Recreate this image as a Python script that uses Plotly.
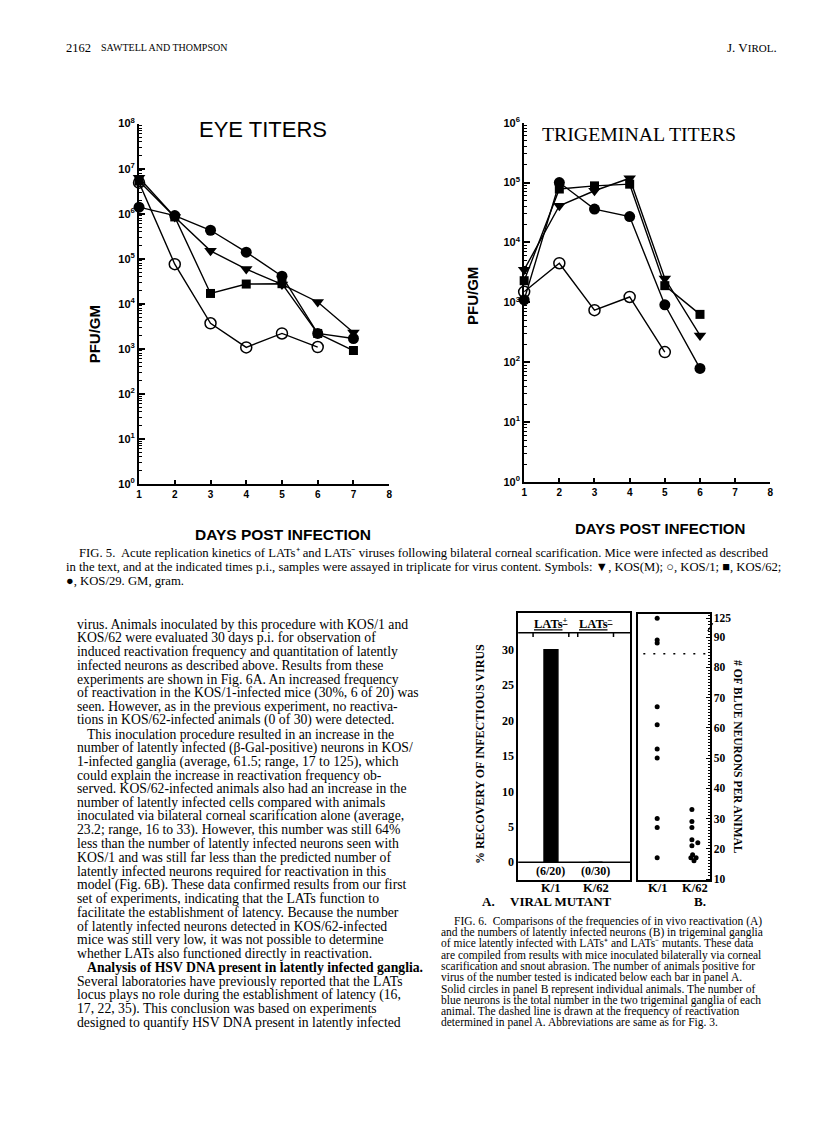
import plotly.graph_objects as go

# page is 816x1123; the browser body has an 8px margin, so the figure is
# placed at (8, 8) and sized to fill the rest of the window exactly
PAGE_W, PAGE_H, OFF = 816, 1123, 8
W, H = PAGE_W - OFF, PAGE_H - OFF


def fx(p):
    return (p - OFF) / W


def fy(p):
    return 1 - (p - OFF) / H


# ---------------- data ----------------
series_names = ["KOS(M)", "KOS/1", "KOS/62", "KOS/29"]

eye_days = [1, 2, 3, 4, 5, 6, 7]
eye_kosm = [6.3e6, 8.5e5, 1.5e5, 5.9e4, 2.7e4, 1.1e4, 2.3e3]
eye_kos1 = [4.9e6, 7.6e4, 3.7e3, 1.08e3, 2.2e3, 1.1e3, None]
eye_kos62 = [5.3e6, 8.5e5, 1.7e4, 2.75e4, 2.8e4, 2.2e3, 9.2e2]
eye_kos29 = [1.4e6, 9.1e5, 4.3e5, 1.4e5, 4.1e4, 2.2e3, 1.7e3]

trig_days = [1, 2, 3, 4, 5, 6]
trig_kosm = [3.5e3, 4.1e4, 7.3e4, 1.18e5, 2.5e3, 2.8e2]
trig_kos1 = [1.5e3, 4.5e3, 7.4e2, 1.23e3, 1.48e2, None]
trig_kos62 = [2.3e3, 7.8e4, 8.8e4, 9.4e4, 1.9e3, 6.3e2]
trig_kos29 = [1.1e3, 1.0e5, 3.6e4, 2.7e4, 9.1e2, 79]

day_ticks = [1, 2, 3, 4, 5, 6, 7, 8]

mutants = ["K/1", "K/62"]
recovery_pct = [30, 0]
positive_counts = ["(6/20)", "(0/30)"]
lats_labels = ["LATs<sup>+</sup>", "LATs<sup>\u2212</sup>"]

k1_neurons = [125, 89, 88, 67, 61, 53, 50, 30, 27, 17]
k62_neurons = [33, 29, 27, 23, 22, 21, 18, 17, 17, 16]
k62_jitter = [0.0, 0.0, 0.0, 0.0, 0.17, 0.0, 0.02, 0.12, -0.03, 0.06]
reactivation_level = 84.5
neuron_ticks = [10, 20, 30, 40, 50, 60, 70, 80, 90, 125]

# axis break above 90 on panel B
BREAK_AT, BREAK_K = 90, 0.177


def brk(v):
    return v if v <= BREAK_AT else BREAK_AT + (v - BREAK_AT) * BREAK_K


# ---------------- figure ----------------
fig = go.Figure()

styles = {
    "KOS(M)": dict(symbol="triangle-down", size=11, color="black"),
    "KOS/1": dict(symbol="circle-open", size=11, color="black", line=dict(width=1.5, color="black")),
    "KOS/62": dict(symbol="square", size=9, color="black"),
    "KOS/29": dict(symbol="circle", size=11, color="black"),
}

eye_series = [eye_kosm, eye_kos1, eye_kos62, eye_kos29]
trig_series = [trig_kosm, trig_kos1, trig_kos62, trig_kos29]

for name, ys in zip(series_names, eye_series):
    fig.add_trace(go.Scatter(x=eye_days, y=ys, mode="lines+markers", name=name,
                             line=dict(color="black", width=1.4), marker=styles[name],
                             xaxis="x", yaxis="y", cliponaxis=False))
for name, ys in zip(series_names, trig_series):
    fig.add_trace(go.Scatter(x=trig_days, y=ys, mode="lines+markers", name=name,
                             line=dict(color="black", width=1.4), marker=styles[name],
                             xaxis="x2", yaxis="y2", cliponaxis=False))

# panel A bars
fig.add_trace(go.Bar(x=list(range(len(mutants))), y=recovery_pct, width=0.31,
                     marker=dict(color="black", line=dict(color="black", width=1.5)),
                     xaxis="x3", yaxis="y3"))

# panel B dots
fig.add_trace(go.Scatter(x=[0] * len(k1_neurons), y=[brk(v) for v in k1_neurons], mode="markers",
                         marker=dict(color="black", size=5), xaxis="x4", yaxis="y4", cliponaxis=False))
fig.add_trace(go.Scatter(x=[1 + j for j in k62_jitter], y=[brk(v) for v in k62_neurons], mode="markers",
                         marker=dict(color="black", size=5), xaxis="x4", yaxis="y4", cliponaxis=False))

sans_b = dict(family="Liberation Sans", size=10, color="black", weight="bold")
line_ax = dict(showgrid=False, zeroline=False, showline=True, linecolor="black", color="black")


def log_minor(n):
    return [m * 10 ** e for e in range(n) for m in range(2, 10)]


fig.update_layout(
    width=W, height=H, margin=dict(l=0, r=0, t=0, b=0),
    paper_bgcolor="white", plot_bgcolor="white", showlegend=False,
    font=dict(color="black", family="Liberation Serif"),
    xaxis=dict(domain=[fx(137), fx(389)], anchor="y", range=[1, 8], tickvals=day_ticks,
               ticks="inside", ticklen=4, tickwidth=1.5, tickfont=sans_b, linewidth=2, **line_ax),
    yaxis=dict(domain=[fy(482), fy(117)], anchor="x", type="log", range=[0, 8],
               tickvals=[10 ** i for i in range(9)], ticktext=[f"10<sup>{i}</sup>" for i in range(9)],
               ticks="inside", ticklen=6, tickwidth=1.5,
               minor=dict(ticks="inside", ticklen=3, tickwidth=1, tickcolor="black", tickvals=log_minor(8)),
               tickfont=dict(family="Liberation Sans", size=11, color="black", weight="bold"),
               linewidth=2, **line_ax),
    xaxis2=dict(domain=[fx(525), fx(773)], anchor="y2", range=[1, 8], tickvals=day_ticks,
                ticks="inside", ticklen=4, tickwidth=1.5, tickfont=sans_b, linewidth=2, **line_ax),
    yaxis2=dict(domain=[fy(480), fy(116)], anchor="x2", type="log", range=[0, 6],
                tickvals=[10 ** i for i in range(7)], ticktext=[f"10<sup>{i}</sup>" for i in range(7)],
                ticks="inside", ticklen=6, tickwidth=1.5,
                minor=dict(ticks="inside", ticklen=3, tickwidth=1, tickcolor="black", tickvals=log_minor(6)),
                tickfont=dict(family="Liberation Sans", size=11, color="black", weight="bold"),
                linewidth=2, **line_ax),
    xaxis3=dict(domain=[fx(519), fx(632)], anchor="y3", range=[-0.733, 1.778],
                showticklabels=False, ticks="", mirror=True, linewidth=1.5, **line_ax),
    yaxis3=dict(domain=[fy(883), fy(613)], anchor="x3", range=[-2.51, 35.15],
                tickvals=[0, 5, 10, 15, 20, 25, 30], ticks="", mirror=True,
                tickfont=dict(family="Liberation Serif", size=12, color="black", weight="bold"),
                linewidth=1.5, **line_ax),
    xaxis4=dict(domain=[fx(640), fx(712)], anchor="y4", range=[-0.543, 1.514],
                showticklabels=False, ticks="", mirror=True, linewidth=1.5, **line_ax),
    yaxis4=dict(domain=[fy(883), fy(614)], anchor="x4", side="right", range=[9.67, 97.5],
                tickvals=[brk(v) for v in neuron_ticks], ticktext=[str(v) for v in neuron_ticks],
                ticks="inside", ticklen=4, tickwidth=1, mirror=True,
                minor=dict(ticks="inside", ticklen=2, tickwidth=0.8, tickcolor="black", dtick=1, tick0=0),
                tickfont=dict(family="Liberation Serif", size=11.5, color="black", weight="bold"),
                linewidth=1.5, **line_ax),
)

shapes = [
    dict(type="line", xref="x3 domain", yref="y3", x0=0, x1=1, y0=0, y1=0, line=dict(color="black", width=1.5)),
    dict(type="line", xref="x3 domain", yref="y3", x0=0, x1=1, y0=32.4, y1=32.4, line=dict(color="black", width=1.5)),
    dict(type="line", xref="x4 domain", yref="y4", x0=0.07, x1=0.96, y0=brk(reactivation_level),
         y1=brk(reactivation_level), line=dict(color="black", width=1.5, dash="2px,8px")),
    dict(type="line", xref="paper", yref="paper", x0=fx(710), x1=fx(715), y0=fy(631), y1=fy(623),
         line=dict(color="black", width=1.2)),
]
# group ticks under the LATs header
for i in range(len(mutants)):
    for d in (-0.4, 0.4):
        shapes.append(dict(type="line", xref="x3", yref="y3", x0=i + d, x1=i + d, y0=32.4, y1=31.8,
                           line=dict(color="black", width=1.5)))
fig.update_layout(shapes=shapes)

ann = []


def txt(x, y, text, size, family="Liberation Serif", anchor="left", bold=False, angle=0):
    f = dict(family=family, size=size, color="black")
    if bold:
        f["weight"] = "bold"
    ann.append(dict(x=fx(x), y=fy(y), xref="paper", yref="paper", text=text, showarrow=False, font=f,
                    xanchor=anchor, yanchor="middle", textangle=angle, borderpad=0))


# page header
txt(62, 40, "2162", 12.5)
txt(98, 40, "SAWTELL AND THOMPSON", 10)
txt(781, 40, "J. V<span style='font-size:11px'>IROL</span>.", 13, anchor="right")

# Fig 5 labels
txt(262, 123, "EYE TITERS", 22, family="Liberation Sans", anchor="center")
txt(641, 127, "TRIGEMINAL TITERS", 19.8, anchor="center")
txt(93, 330, "PFU/GM", 15, family="Liberation Sans", anchor="center", bold=True, angle=-90)
txt(473, 292, "PFU/GM", 15, family="Liberation Sans", anchor="center", bold=True, angle=-90)
txt(282, 533, "DAYS POST INFECTION", 15.5, family="Liberation Sans", anchor="center", bold=True)
txt(662, 527, "DAYS POST INFECTION", 15, family="Liberation Sans", anchor="center", bold=True)

fig5_caption = [
    (75, "FIG. 5.  Acute replication kinetics of LATs\u207a and LATs\u207b viruses following bilateral corneal scarification. Mice were infected as described"),
    (62, "in the text, and at the indicated times p.i., samples were assayed in triplicate for virus content. Symbols: \u25bc, KOS(M); \u25cb, KOS/1; \u25a0, KOS/62;"),
    (62, "\u25cf, KOS/29. GM, gram."),
]
for i, (x0, line) in enumerate(fig5_caption):
    txt(x0, 552 + i * 14, line, 12.7)

# body text
body = [
    (73, "virus. Animals inoculated by this procedure with KOS/1 and"),
    (73, "KOS/62 were evaluated 30 days p.i. for observation of"),
    (73, "induced reactivation frequency and quantitation of latently"),
    (73, "infected neurons as described above. Results from these"),
    (73, "experiments are shown in Fig. 6A. An increased frequency"),
    (73, "of reactivation in the KOS/1-infected mice (30%, 6 of 20) was"),
    (73, "seen. However, as in the previous experiment, no reactiva-"),
    (73, "tions in KOS/62-infected animals (0 of 30) were detected."),
    (84, "This inoculation procedure resulted in an increase in the"),
    (73, "number of latently infected (\u03b2-Gal-positive) neurons in KOS/"),
    (73, "1-infected ganglia (average, 61.5; range, 17 to 125), which"),
    (73, "could explain the increase in reactivation frequency ob-"),
    (73, "served. KOS/62-infected animals also had an increase in the"),
    (73, "number of latently infected cells compared with animals"),
    (73, "inoculated via bilateral corneal scarification alone (average,"),
    (73, "23.2; range, 16 to 33). However, this number was still 64%"),
    (73, "less than the number of latently infected neurons seen with"),
    (73, "KOS/1 and was still far less than the predicted number of"),
    (73, "latently infected neurons required for reactivation in this"),
    (73, "model (Fig. 6B). These data confirmed results from our first"),
    (73, "set of experiments, indicating that the LATs function to"),
    (73, "facilitate the establishment of latency. Because the number"),
    (73, "of latently infected neurons detected in KOS/62-infected"),
    (73, "mice was still very low, it was not possible to determine"),
    (73, "whether LATs also functioned directly in reactivation."),
    (84, "<b>Analysis of HSV DNA present in latently infected ganglia.</b>"),
    (73, "Several laboratories have previously reported that the LATs"),
    (73, "locus plays no role during the establishment of latency (16,"),
    (73, "17, 22, 35). This conclusion was based on experiments"),
    (73, "designed to quantify HSV DNA present in latently infected"),
]
for i, (x0, line) in enumerate(body):
    txt(x0, 624 + i * 13.9, line, 13.7)

# Fig 6 panel labels
bold_serif = dict(family="Liberation Serif", size=12.5, color="black", weight="bold")
for i, lab in enumerate(lats_labels):
    ann.append(dict(x=i, y=33.8, xref="x3", yref="y3", text=f"<u>{lab}</u>", showarrow=False,
                    font=bold_serif, xanchor="center", yanchor="middle"))
for i, lab in enumerate(positive_counts):
    ann.append(dict(x=i, y=-1.25, xref="x3", yref="y3", text=lab, showarrow=False,
                    font=dict(family="Liberation Serif", size=12, color="black", weight="bold"),
                    xanchor="center", yanchor="middle"))
for xa in ("x3", "x4"):
    for i, lab in enumerate(mutants):
        ann.append(dict(x=i + (0.1 if (xa == "x4" and i == 1) else 0), y=fy(891), xref=xa, yref="paper",
                        text=lab, showarrow=False, font=dict(family="Liberation Serif", size=12.5,
                                                             color="black", weight="bold"),
                        xanchor="center", yanchor="middle"))
txt(480, 755, "% RECOVERY OF INFECTIOUS VIRUS", 12, anchor="center", bold=True, angle=-90)
txt(741, 758, "# OF BLUE NEURONS PER ANIMAL", 11.5, anchor="center", bold=True, angle=90)
txt(482, 905, "A.", 13, bold=True)
txt(562, 905, "VIRAL MUTANT", 13, anchor="center", bold=True)
txt(695, 905, "B.", 13, bold=True)

fig6_caption = [
    (453, "FIG. 6.  Comparisons of the frequencies of in vivo reactivation (A)"),
    (440, "and the numbers of latently infected neurons (B) in trigeminal ganglia"),
    (440, "of mice latently infected with LATs\u207a and LATs\u207b mutants. These data"),
    (440, "are compiled from results with mice inoculated bilaterally via corneal"),
    (440, "scarification and snout abrasion. The number of animals positive for"),
    (440, "virus of the number tested is indicated below each bar in panel A."),
    (440, "Solid circles in panel B represent individual animals. The number of"),
    (440, "blue neurons is the total number in the two trigeminal ganglia of each"),
    (440, "animal. The dashed line is drawn at the frequency of reactivation"),
    (440, "determined in panel A. Abbreviations are same as for Fig. 3."),
]
for i, (x0, line) in enumerate(fig6_caption):
    txt(x0, 925 + i * 11.4, line, 11.5)

fig.update_layout(annotations=ann)
fig.write_html("out.html")
